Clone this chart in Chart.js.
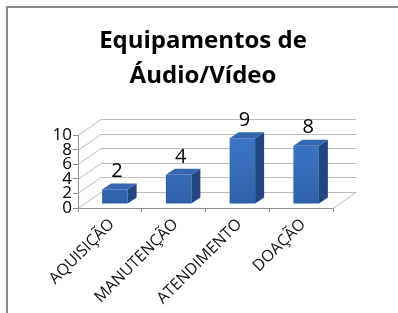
<!DOCTYPE html>
<html>
<head>
<meta charset="utf-8">
<script src="https://cdn.jsdelivr.net/npm/chart.js@4"></script>
<style>
  html, body { margin: 0; padding: 0; background: #fff; }
  #wrap { width: 398px; height: 313px; }
</style>
</head>
<body>
<div id="wrap"><canvas id="myChart"></canvas></div>
<script>
const categories = ['AQUISIÇÃO', 'MANUTENÇÃO', 'ATENDIMENTO', 'DOAÇÃO'];
const values = [2, 4, 9, 8];
const titleLines = ['Equipamentos de', 'Áudio/Vídeo'];

// 3d offsets (px)
const DX = 23, DY = -16;       // floor / wall depth
const BX = 5, BY = -4;         // bar placement inside the depth
const SX = 9, SY = -6;         // bar thickness

const frame3d = {
    id: 'frame3d',
    beforeDraw(chart) {
        const ctx = chart.ctx;
        ctx.save();
        ctx.fillStyle = '#8c8c8c';
        ctx.fillRect(6, 6, 392, 2);
        ctx.fillRect(6, 6, 2, 307);
        ctx.restore();
    },
    beforeDatasetsDraw(chart) {
        const ctx = chart.ctx;
        const y = chart.scales.y;
        const a = chart.chartArea;
        ctx.save();
        ctx.strokeStyle = '#bdbdbd';
        ctx.lineWidth = 1;
        for (const t of y.ticks) {
            const py = Math.round(y.getPixelForValue(t.value)) + 0.5;
            ctx.beginPath();
            ctx.moveTo(a.left, py);
            ctx.lineTo(a.left + DX, py + DY);
            ctx.lineTo(a.right + DX, py + DY);
            ctx.stroke();
        }
        // floor right edge
        const py0 = Math.round(y.getPixelForValue(0)) + 0.5;
        ctx.beginPath();
        ctx.moveTo(a.right, py0);
        ctx.lineTo(a.right + DX, py0 + DY);
        ctx.stroke();
        ctx.restore();
    },
    beforeDatasetDraw(chart) {
        chart.ctx.save();
        chart.ctx.translate(BX, BY);
    },
    afterDatasetDraw(chart, args) {
        const ctx = chart.ctx;
        const meta = args.meta;
        for (const bar of meta.data) {
            const p = bar.getProps(['x', 'y', 'base', 'width']);
            const l = p.x - p.width / 2, r = p.x + p.width / 2;
            // side
            ctx.fillStyle = '#22467f';
            ctx.beginPath();
            ctx.moveTo(r, p.y);
            ctx.lineTo(r + SX, p.y + SY);
            ctx.lineTo(r + SX, p.base + SY);
            ctx.lineTo(r, p.base);
            ctx.closePath();
            ctx.fill();
            // top
            ctx.fillStyle = '#3467b0';
            ctx.beginPath();
            ctx.moveTo(l, p.y);
            ctx.lineTo(l + SX, p.y + SY);
            ctx.lineTo(r + SX, p.y + SY);
            ctx.lineTo(r, p.y);
            ctx.closePath();
            ctx.fill();
        }
        ctx.restore();
        // value labels
        ctx.save();
        ctx.fillStyle = '#000';
        ctx.font = '20px "Open Sans"';
        ctx.textAlign = 'center';
        ctx.textBaseline = 'middle';
        meta.data.forEach((bar, i) => {
            ctx.fillText(String(values[i]), bar.x + BX + 2, bar.y + BY - 18);
        });
        ctx.restore();
    }
};

const ctx = document.getElementById('myChart').getContext('2d');
const grad = ctx.createLinearGradient(0, 130, 0, 206);
grad.addColorStop(0, '#3c7acb');
grad.addColorStop(1, '#2e61aa');

new Chart(ctx, {
    type: 'bar',
    data: {
        labels: categories,
        datasets: [{
            data: values,
            backgroundColor: grad,
            borderWidth: 0,
            barPercentage: 0.4,
            categoryPercentage: 1
        }]
    },
    plugins: [frame3d],
    options: {
        responsive: true,
        maintainAspectRatio: false,
        animation: false,
        layout: { padding: { left: 22, right: 14, top: 0, bottom: 0 } },
        plugins: {
            legend: { display: false },
            tooltip: { enabled: false },
            title: {
                display: true,
                text: titleLines,
                color: '#000',
                font: { family: 'Open Sans', size: 24, weight: 'bold', lineHeight: 1.46 },
                padding: { top: 24, bottom: 41 }
            }
        },
        scales: {
            x: {
                afterFit(scale) { scale.height = 105; },
                grid: { drawOnChartArea: false, tickLength: 4, color: '#8c8c8c' },
                border: { display: true, color: '#8c8c8c' },
                ticks: {
                    color: '#111',
                    font: { family: 'Open Sans', size: 16 },
                    minRotation: 45,
                    maxRotation: 45,
                    autoSkip: false,
                    labelOffset: 2,
                    padding: 3
                }
            },
            y: {
                min: 0,
                max: 10,
                afterFit(scale) { scale.width = 56; },
                grid: { drawOnChartArea: false, tickLength: 5, color: '#8c8c8c' },
                border: { display: true, color: '#8c8c8c' },
                ticks: {
                    stepSize: 2,
                    autoSkip: false,
                    color: '#000',
                    font: { family: 'Open Sans', size: 17 },
                    padding: 1
                }
            },
            spacer: {
                type: 'linear',
                position: 'right',
                afterFit(scale) { scale.width = 51; },
                grid: { display: false },
                border: { display: false },
                ticks: { display: false }
            }
        }
    }
});
</script>
</body>
</html>
